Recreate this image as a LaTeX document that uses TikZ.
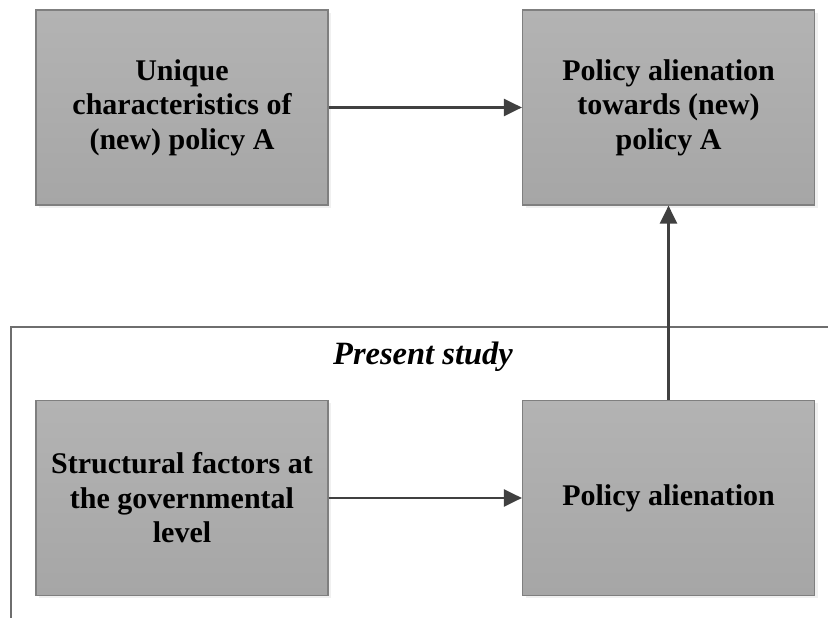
\documentclass[tikz,border=0pt]{standalone}
\usepackage{fontspec}
\setmainfont{Liberation Serif}
\usetikzlibrary{arrows.meta,shadows}
\definecolor{boxtop}{HTML}{B3B3B3}
\definecolor{boxbot}{HTML}{A6A6A6}
\definecolor{boxline}{HTML}{7F7F7F}
\definecolor{arrowgray}{HTML}{404040}
\definecolor{framegray}{HTML}{6E6E6E}
\begin{document}
\begin{tikzpicture}[
	x=1pt, y=1pt,
	factor/.style={draw=boxline, line width=1.2pt, rectangle, top color=boxtop, bottom color=boxbot,
		minimum width=292pt, minimum height=195pt, inner sep=0pt, align=center,
		font=\fontsize{30}{34.5}\selectfont\bfseries,
		drop shadow={opacity=0.12, shadow xshift=3pt, shadow yshift=-3pt}},
	>={Triangle[length=18pt,width=17pt]}
	]
	
	\useasboundingbox (0,0) rectangle (828,618);
	
	%-----------------------
	% Customizable positions
	%-----------------------
	\def\xleft{182}    % Column 1
	\def\xright{668.5} % Column 2
	\def\ytop{510.5}   % Row 1
	\def\ybot{120}     % Row 2 (present study)
	
	%-----------------------
	% Frame: present study
	%-----------------------
	\coordinate (FR-c) at (11,291);
	\coordinate (FR-r) at (828,291);
	\coordinate (FR-b) at (11,0);
	\draw[framegray, line width=1.3pt] (FR-r) -- (FR-c) -- (FR-b);
	\node[font=\fontsize{32.5}{36}\selectfont\bfseries\itshape] (study) at (423,261) {Present study};
	
	%-----------------------
	% Row 1: policy A
	%-----------------------
	\node[factor] (unique) at (\xleft,\ytop) {Unique\\characteristics of\\(new) policy A};
	\node[factor] (alienA) at (\xright,\ytop) {Policy alienation\\towards (new)\\policy A};
	
	%-----------------------
	% Row 2: structural factors
	%-----------------------
	\node[factor] (struct) at (\xleft,\ybot) {Structural factors at\\the governmental\\level};
	\node[factor] (alien) at (\xright,\ybot) {Policy alienation};
	
	%-----------------------
	% Connections
	%-----------------------
	\tikzset{connect/.style={->, draw=arrowgray, fill=arrowgray, line width=2.4pt}}
	
	\draw[connect] (unique.east) -- (alienA.west);
	\draw[connect] (struct.east) -- (alien.west);
	\draw[connect] (alien.north) -- (alienA.south);
	
\end{tikzpicture}
\end{document}
